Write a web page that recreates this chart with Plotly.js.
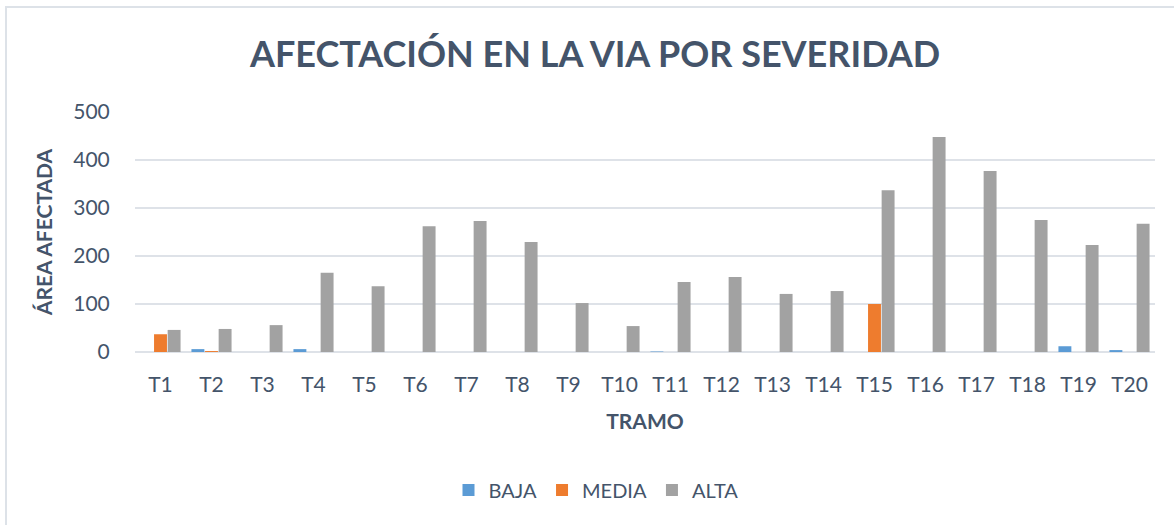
<!DOCTYPE html>
<html>
<head>
<meta charset="utf-8">
<script src="https://cdn.plot.ly/plotly-3.0.1.min.js"></script>
<style>
html,body{margin:0;padding:0;background:#fff;}
#wrap{position:relative;width:1174px;height:525px;}
#chart{position:absolute;left:0;top:0;width:1174px;height:525px;}
#frame{position:absolute;left:5px;top:6px;width:1180px;height:540px;border-left:2px solid #DDE2E8;border-top:2px solid #DDE2E8;pointer-events:none;}
</style>
</head>
<body>
<div id="wrap"><div id="chart"></div><div id="frame"></div></div>
<script>
const categories = ["T1","T2","T3","T4","T5","T6","T7","T8","T9","T10","T11","T12","T13","T14","T15","T16","T17","T18","T19","T20"];
const baja  = [0, 6, 0, 6, 0, 0, 0, 0, 0, 0, 1, 0, 0, 0, 0, 0, 0, 0, 12, 4];
const media = [37, 2, 0, 0, 0, 0, 0, 0, 0, 0, 0, 0, 0, 0, 100, 0, 0, 0, 0, 0];
const alta  = [46, 48, 56, 165, 137, 262, 273, 229, 102, 54, 146, 156, 121, 127, 337, 448, 377, 275, 223, 267];
const seriesNames = ["BAJA","MEDIA","ALTA"];
const yTicks = [0,100,200,300,400,500];

const FONT = "Lato, 'Open Sans', sans-serif";
const TXT = "#44546A";

const traces = [
  {type:"bar", name:seriesNames[0], x:categories, y:baja, marker:{color:"#5B9BD5"}},
  {type:"bar", name:seriesNames[1], x:categories, y:media, marker:{color:"#EE7C2E"}},
  {type:"bar", name:seriesNames[2], x:categories, y:alta, marker:{color:"#A2A2A2"}}
];

const layout = {
  width:1174, height:525,
  paper_bgcolor:"#fff", plot_bgcolor:"#fff",
  margin:{l:135, r:19, t:112, b:173},
  font:{family:FONT, color:TXT, size:21},
  title:{text:"<b>AFECTACIÓN EN LA VIA POR SEVERIDAD</b>", font:{family:FONT, size:36, color:TXT},
         xref:"container", x:595/1174, xanchor:"center", yref:"container", y:1-54/525, yanchor:"middle"},
  barmode:"group", bargap:0.2, bargroupgap:0.05,
  xaxis:{type:"category", showgrid:false, showline:false, zeroline:false,
         ticks:"outside", ticklen:14, tickcolor:"rgba(0,0,0,0)",
         tickfont:{family:FONT, size:21, color:TXT},
         title:{text:"<b>TRAMO</b>", font:{family:FONT, size:21, color:TXT}, standoff:19}},
  yaxis:{range:[0,500], tickvals:yTicks, showgrid:true, gridcolor:"#DEE2E8", gridwidth:2,
         zeroline:true, zerolinecolor:"#DEE2E8", zerolinewidth:2, showline:false,
         ticks:"outside", ticklen:20, tickcolor:"rgba(0,0,0,0)",
         tickfont:{family:FONT, size:21, color:TXT},
         title:{text:"<b>ÁREA AFECTADA</b>", font:{family:FONT, size:21, color:TXT}, standoff:14}},
  legend:{orientation:"h", x:596/1174, xanchor:"center", xref:"container", y:1-490/525, yref:"container", yanchor:"middle",
          font:{family:FONT, size:20, color:TXT}, itemwidth:30, tracegroupgap:0},
  showlegend:true
};

Plotly.newPlot("chart", traces, layout, {displayModeBar:false, staticPlot:true});
</script>
</body>
</html>
